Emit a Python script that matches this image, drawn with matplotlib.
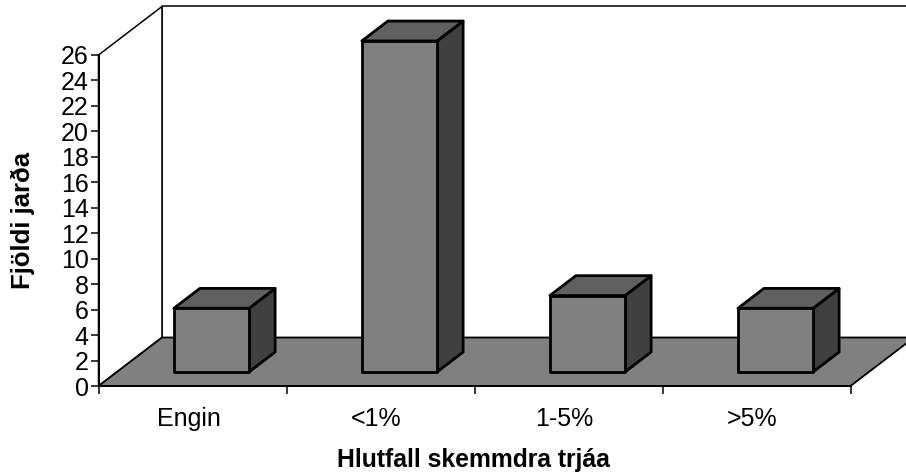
import matplotlib
matplotlib.use("Agg")
import matplotlib.pyplot as plt
from matplotlib.patches import Polygon
from matplotlib.transforms import ScaledTranslation

categories = ["Engin", "<1%", "1-5%", ">5%"]
counts = [5, 26, 6, 5]
y_ticks = list(range(0, 27, 2))

W, H = 906, 474
X0, X1 = 98.5, 850.5     # front axis, pixels
Y0, Y1 = 386, 55

# depth direction of the fake 3D, one full depth in data units
DX = 63.5 / ((X1 - X0) / len(categories))
DY = 48.5 / ((Y0 - Y1) / y_ticks[-1])

plt.rcParams["font.family"] = ["Liberation Sans", "DejaVu Sans"]

fig = plt.figure(figsize=(W / 100, H / 100), dpi=100)
ax = fig.add_axes([X0 / W, 1 - Y0 / H, (X1 - X0) / W, (Y0 - Y1) / H])
ax.set_xlim(0, len(categories))
ax.set_ylim(0, y_ticks[-1])
ax.patch.set_visible(False)


def pt(x, y, z=0.0):
    return (x + z * DX, y + z * DY)


def face(points, color, lw=2.0, zorder=3):
    ax.add_patch(Polygon(points, closed=True, facecolor=color, edgecolor="black",
                         linewidth=lw, joinstyle="round", clip_on=False, zorder=zorder))


n = len(categories)
top = y_ticks[-1]

# back wall and side wall
face([pt(0, 0, 1), pt(n, 0, 1), pt(n, top, 1), pt(0, top, 1)], "white", lw=1.1, zorder=1)
face([pt(0, 0, 0), pt(0, 0, 1), pt(0, top, 1), pt(0, top, 0)], "white", lw=1.1, zorder=1)
# floor
face([pt(0, 0, 0), pt(n, 0, 0), pt(n, 0, 1), pt(0, 0, 1)], "#808080", lw=1.3, zorder=2)

# bars
bar_w = 0.4
z_front, z_back = 0.29, 0.70
for i, v in enumerate(counts):
    left = i + 0.5 - bar_w / 2 + 0.003
    right = left + bar_w
    face([pt(right, 0, z_front), pt(right, 0, z_back), pt(right, v, z_back), pt(right, v, z_front)], "#404040")
    face([pt(left, v, z_front), pt(right, v, z_front), pt(right, v, z_back), pt(left, v, z_back)], "#606060")
    face([pt(left, 0, z_front), pt(right, 0, z_front), pt(right, v, z_front), pt(left, v, z_front)], "#808080")

for s in ["top", "right"]:
    ax.spines[s].set_visible(False)
for s in ["left", "bottom"]:
    ax.spines[s].set_linewidth(1.4)
    ax.spines[s].set_zorder(5)

ax.set_yticks(y_ticks)
ax.set_xticks(range(n + 1))
ax.set_xticklabels([])
ax.set_xticks([i + 0.5 for i in range(n)], labels=categories, minor=True)
ax.tick_params(axis="x", which="major", length=6, width=1.1)
ax.tick_params(axis="x", which="minor", length=0, labelsize=18, pad=15)
ax.tick_params(axis="y", length=6, width=1.1, labelsize=18, pad=1)

# category labels sit a little left of the tick centres
shift = ScaledTranslation(-4 / 100, 0, fig.dpi_scale_trans)
for lab in ax.get_xticklabels(minor=True):
    lab.set_transform(lab.get_transform() + shift)

fig.text(473 / W, 1 - 460 / H, "Hlutfall skemmdra trjáa", fontsize=17.8, fontweight="bold",
         ha="center", va="center")
fig.text(23 / W, 1 - 220 / H, "Fjöldi jarða", fontsize=18.5, fontweight="bold",
         rotation=90, ha="center", va="center")

fig.savefig("out.png", dpi=100)
